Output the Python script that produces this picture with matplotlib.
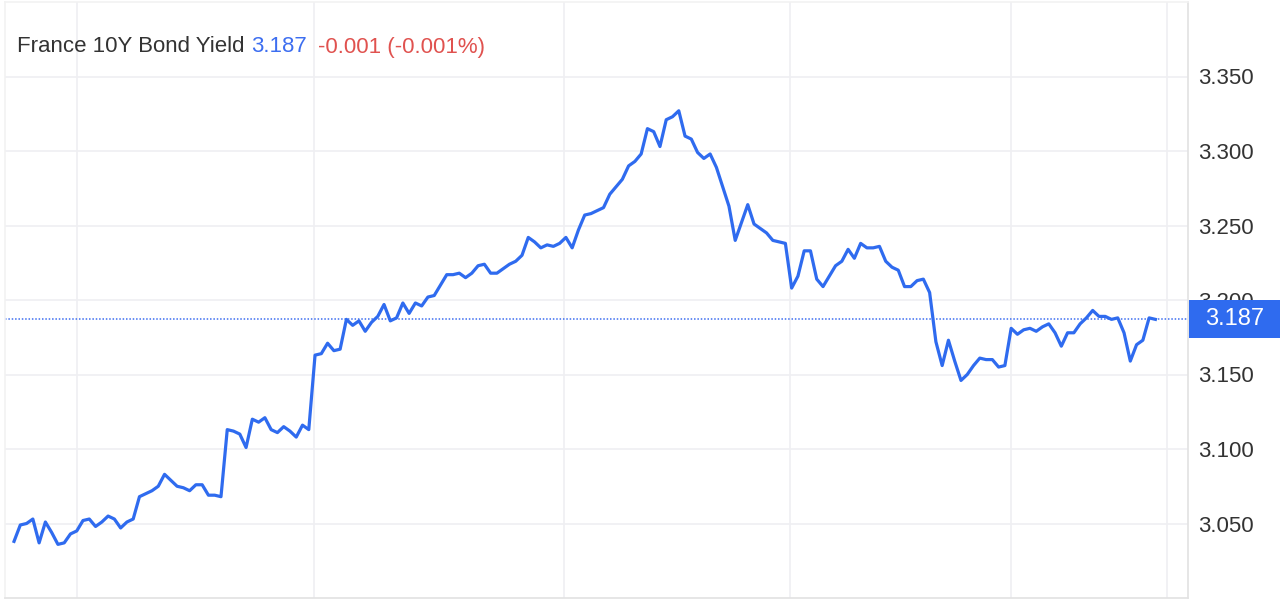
import matplotlib
matplotlib.use('Agg')
import matplotlib.pyplot as plt
import matplotlib.transforms as mtransforms
from matplotlib.patches import Rectangle
import numpy as np

plt.rcParams['font.family'] = ['Liberation Sans', 'DejaVu Sans']

# France 10Y bond yield, daily closes
yields = [
    3.038, 3.049, 3.050, 3.053, 3.037, 3.051, 3.044, 3.036, 3.037, 3.043,
    3.045, 3.052, 3.053, 3.048, 3.051, 3.055, 3.053, 3.047, 3.051, 3.053,
    3.068, 3.070, 3.072, 3.075, 3.083, 3.079, 3.075, 3.074, 3.072, 3.076,
    3.076, 3.069, 3.069, 3.068, 3.113, 3.112, 3.110, 3.101, 3.120, 3.118,
    3.121, 3.113, 3.111, 3.115, 3.112, 3.108, 3.116, 3.113, 3.163, 3.164,
    3.171, 3.166, 3.167, 3.187, 3.183, 3.186, 3.179, 3.185, 3.189, 3.197,
    3.186, 3.188, 3.198, 3.191, 3.198, 3.196, 3.202, 3.203, 3.210, 3.217,
    3.217, 3.218, 3.215, 3.218, 3.223, 3.224, 3.218, 3.218, 3.221, 3.224,
    3.226, 3.230, 3.242, 3.239, 3.235, 3.237, 3.236, 3.238, 3.242, 3.235,
    3.247, 3.257, 3.258, 3.260, 3.262, 3.271, 3.276, 3.281, 3.290, 3.293,
    3.298, 3.315, 3.313, 3.303, 3.321, 3.323, 3.327, 3.310, 3.308, 3.299,
    3.295, 3.298, 3.289, 3.276, 3.263, 3.240, 3.252, 3.264, 3.251, 3.248,
    3.245, 3.240, 3.239, 3.238, 3.208, 3.216, 3.233, 3.233, 3.214, 3.209,
    3.216, 3.223, 3.226, 3.234, 3.228, 3.238, 3.235, 3.235, 3.236, 3.226,
    3.222, 3.220, 3.209, 3.209, 3.213, 3.214, 3.205, 3.172, 3.156, 3.173,
    3.159, 3.146, 3.150, 3.156, 3.161, 3.160, 3.160, 3.155, 3.156, 3.181,
    3.177, 3.180, 3.181, 3.179, 3.182, 3.184, 3.178, 3.169, 3.178, 3.178,
    3.184, 3.188, 3.193, 3.189, 3.189, 3.187, 3.188, 3.178, 3.159, 3.170,
    3.173, 3.188, 3.187,
]
last_value = 3.187
change = '-0.001 (-0.001%)'
y_ticks = [3.050, 3.100, 3.150, 3.200, 3.250, 3.300, 3.350]
# month boundaries (day index) used for the vertical grid
month_starts = [10, 47.8, 87.7, 123.8, 159, 183.9]

line_col = '#2f6bef'
grid_col = '#efeff2'

fig = plt.figure(figsize=(12.8, 6.01), dpi=100)
ax = fig.add_axes([5 / 1280, 3 / 601, 1183 / 1280, 596 / 601])

x = np.arange(len(yields))
ax.plot(x, yields, color=line_col, lw=2.3, solid_joinstyle='round', zorder=3)
ax.axhline(last_value, color='#3d6ef0', lw=1.1, ls=(0, (1, 1.2)), zorder=2)

ax.set_xlim(-1.44, 187.2)
ax.set_ylim(3.0, 3.4)

for v in y_ticks:
    ax.axhline(v, color=grid_col, lw=1.2, zorder=1)
for m in month_starts:
    ax.axvline(m, color=grid_col, lw=1.2, zorder=1)

ax.set_xticks([])
ax.yaxis.tick_right()
ax.set_yticks(y_ticks)
ax.set_yticklabels(['%.3f' % v for v in y_ticks], fontsize=16, color='#333333')
ax.tick_params(axis='y', length=0, pad=7)
for s in ['top', 'left']:
    ax.spines[s].set_color('#f2f2f2')
for s in ['right', 'bottom']:
    ax.spines[s].set_color('#e2e2e2')
for s in ax.spines.values():
    s.set_linewidth(1.2)

# last value tag on the right axis (covers part of the 3.200 label, as in the original)
trans = mtransforms.blended_transform_factory(fig.transFigure, ax.transData)
tag_h = 38 / 596 * 0.4
fig.patches.append(Rectangle((1189 / 1280, last_value - tag_h / 2), 91 / 1280, tag_h,
                             transform=trans, fc=line_col, ec='none', zorder=5))
fig.text(1235 / 1280, last_value, '%.3f' % last_value, transform=trans,
         fontsize=17, color='white', ha='center', va='center', zorder=6)

# header
hy = 1 - 47 / 601
t1 = fig.text(17 / 1280, hy, 'France 10Y Bond Yield ', fontsize=16,
              color='#333333', va='center', ha='left')
fig.canvas.draw()
bb = t1.get_window_extent()
t2 = fig.text(bb.x1 / 1280, hy, '%.3f' % last_value, fontsize=16,
              color='#3d6ef0', va='center', ha='left')
bb2 = t2.get_window_extent()
fig.text((bb2.x1 + 12) / 1280, hy, change, fontsize=16,
         color='#e0524f', va='center', ha='left')

fig.savefig('out.png', dpi=100, facecolor='white')
